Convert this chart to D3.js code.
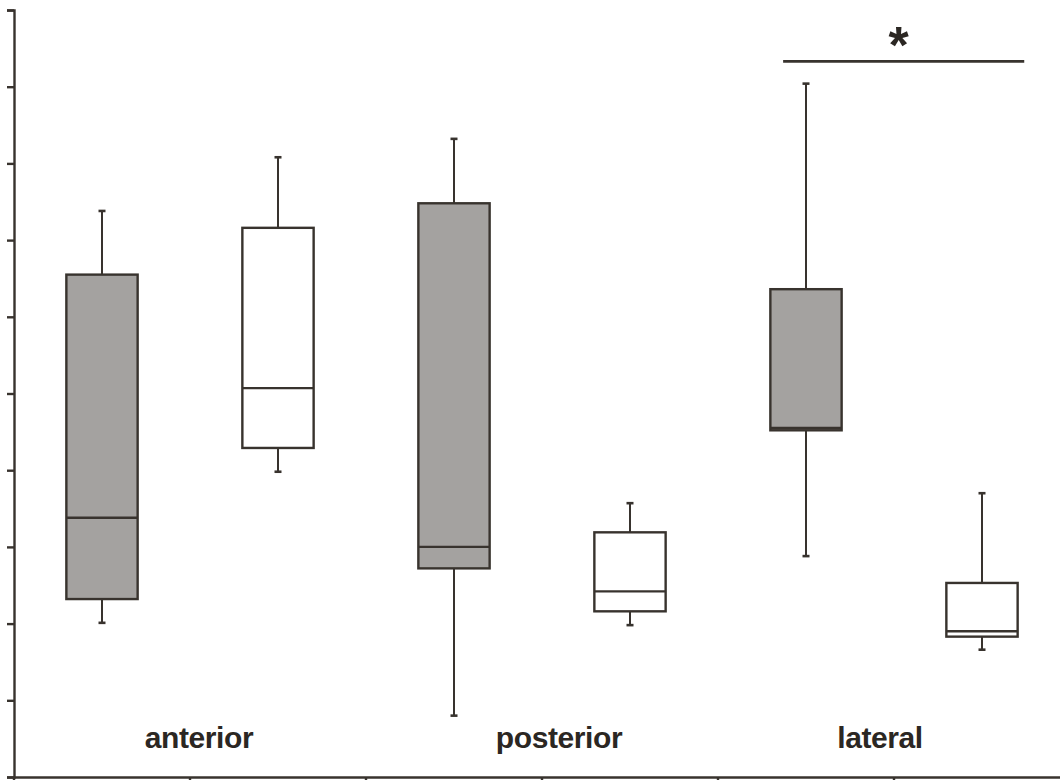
<!DOCTYPE html>
<html>
<head>
<meta charset="utf-8">
<script src="https://cdn.jsdelivr.net/npm/d3@7"></script>
<style>
  body { margin: 0; background: #fff; }
  svg { display: block; }
</style>
</head>
<body>
<div id="chart"></div>
<script>
// regions, each with two boxes (grey then white)
const regions = ["anterior", "posterior", "lateral"];
const boxFill = ["grey", "white", "grey", "white", "grey", "white"];

// box statistics, one entry per box, left to right
const whiskerHigh = [7.38, 8.08, 8.32, 3.57, 9.04, 3.70];
const q3          = [6.55, 7.16, 7.48, 3.19, 6.36, 2.53];
const medians     = [3.38, 5.07, 3.00, 2.42, 4.55, 1.90];
const q1          = [2.32, 4.29, 2.72, 2.16, 4.52, 1.83];
const whiskerLow  = [2.01, 3.98, 0.80, 1.98, 2.88, 1.66];

const yTicks = [0, 1, 2, 3, 4, 5, 6, 7, 8, 9, 10];

// significance bar over the lateral pair
const sigBar = { from: 4, to: 5, value: 9.33, label: "*" };

const W = 1060, H = 780;
const ink = "#38332e";
const greyFill = "#a4a2a0";

const svg = d3.select("#chart").append("svg")
    .attr("width", W)
    .attr("height", H);

const boxes = whiskerHigh.map((d, i) => ({
    i,
    hi: d,
    q3: q3[i],
    med: medians[i],
    q1: q1[i],
    lo: whiskerLow[i],
    fill: boxFill[i]
}));

const x = d3.scaleBand()
    .domain(d3.range(boxes.length))
    .range([14, 14 + 176 * boxes.length])
    .paddingInner(0)
    .paddingOuter(0);

const y = d3.scaleLinear()
    .domain([0, 10])
    .range([777, 10]);

const boxW = x.bandwidth() * 0.405;
const capW = 7;

// axes
const yAxis = svg.append("g")
    .attr("transform", `translate(${x.range()[0]},0)`)
    .call(d3.axisLeft(y).tickValues(yTicks).tickSize(7).tickFormat(""));

const xAxis = svg.append("g")
    .attr("transform", `translate(0,${y(0)})`)
    .call(d3.axisBottom(x).tickSize(0).tickFormat(""));

// ticks at band boundaries
xAxis.selectAll(".bound")
    .data(d3.range(boxes.length + 1))
    .enter()
    .append("line")
    .attr("class", "bound")
    .attr("x1", d => x.range()[0] + d * x.step())
    .attr("x2", d => x.range()[0] + d * x.step())
    .attr("y1", 0)
    .attr("y2", 7);

[yAxis, xAxis].forEach(a => {
    a.select(".domain").attr("stroke", ink).attr("stroke-width", 2.4);
    a.selectAll("line").attr("stroke", ink).attr("stroke-width", 2.4);
});

// boxes
const g = svg.selectAll(".box")
    .data(boxes)
    .enter()
    .append("g")
    .attr("class", "box")
    .attr("transform", d => `translate(${x(d.i) + x.bandwidth() / 2},0)`);

// whiskers
g.append("line")
    .attr("x1", 0).attr("x2", 0)
    .attr("y1", d => y(d.hi))
    .attr("y2", d => y(d.q3))
    .attr("stroke", ink)
    .attr("stroke-width", 2);

g.append("line")
    .attr("x1", 0).attr("x2", 0)
    .attr("y1", d => y(d.q1))
    .attr("y2", d => y(d.lo))
    .attr("stroke", ink)
    .attr("stroke-width", 2);

// caps
g.append("line")
    .attr("x1", -capW / 2).attr("x2", capW / 2)
    .attr("y1", d => y(d.hi)).attr("y2", d => y(d.hi))
    .attr("stroke", ink)
    .attr("stroke-width", 2.6);

g.append("line")
    .attr("x1", -capW / 2).attr("x2", capW / 2)
    .attr("y1", d => y(d.lo)).attr("y2", d => y(d.lo))
    .attr("stroke", ink)
    .attr("stroke-width", 2.6);

// box body
g.append("rect")
    .attr("x", -boxW / 2)
    .attr("width", boxW)
    .attr("y", d => y(d.q3))
    .attr("height", d => y(d.q1) - y(d.q3))
    .attr("fill", d => d.fill === "grey" ? greyFill : "#fff")
    .attr("stroke", ink)
    .attr("stroke-width", 2.4);

// median
g.append("line")
    .attr("x1", -boxW / 2).attr("x2", boxW / 2)
    .attr("y1", d => y(d.med)).attr("y2", d => y(d.med))
    .attr("stroke", ink)
    .attr("stroke-width", 2.4);

// region labels
const labelDx = [9, 17, -14];
svg.selectAll(".region")
    .data(regions)
    .enter()
    .append("text")
    .attr("class", "region")
    .attr("x", (d, i) => x(i * 2) + x.step() + labelDx[i])
    .attr("y", 748)
    .attr("text-anchor", "middle")
    .attr("font-family", "Liberation Sans, Arial, sans-serif")
    .attr("font-weight", "bold")
    .attr("font-size", "30px")
    .attr("letter-spacing", "-0.4px")
    .attr("fill", "#2b2723")
    .text(d => d);

// significance bar
const sx1 = x(sigBar.from) + x.step() * 0.37;
const sx2 = x(sigBar.to) + x.step() * 0.74;
svg.append("line")
    .attr("x1", sx1).attr("x2", sx2)
    .attr("y1", y(sigBar.value)).attr("y2", y(sigBar.value))
    .attr("stroke", ink)
    .attr("stroke-width", 2.6);

svg.append("text")
    .attr("x", (sx1 + sx2) / 2 - 5)
    .attr("y", y(sigBar.value) + 2)
    .attr("text-anchor", "middle")
    .attr("font-family", "Liberation Sans, Arial, sans-serif")
    .attr("font-weight", "bold")
    .attr("font-size", "52px")
    .attr("fill", "#2b2723")
    .text(sigBar.label);
</script>
</body>
</html>
